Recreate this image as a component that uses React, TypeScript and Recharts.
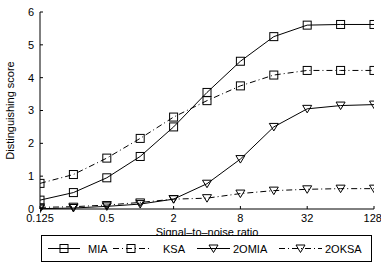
import React from "react";
import { LineChart, Line, XAxis, YAxis, Legend } from "recharts";

const snr = [0.125, 0.25, 0.5, 1, 2, 4, 8, 16, 32, 64, 128];
const mia = [0.27, 0.5, 0.95, 1.6, 2.5, 3.55, 4.5, 5.25, 5.6, 5.62, 5.62];
const ksa = [0.78, 1.05, 1.55, 2.15, 2.8, 3.3, 3.75, 4.08, 4.22, 4.22, 4.22];
const omia2 = [0.01, 0.03, 0.08, 0.15, 0.3, 0.77, 1.52, 2.5, 3.05, 3.15, 3.18];
const oksa2 = [0.05, 0.07, 0.12, 0.2, 0.3, 0.33, 0.47, 0.56, 0.6, 0.62, 0.62];
const xTicks = [0.125, 0.5, 2, 8, 32, 128];
const yTicks = [0, 1, 2, 3, 4, 5, 6];

const data = snr.map((x, i) => ({
  x,
  mia: mia[i],
  ksa: ksa[i],
  omia2: omia2[i],
  oksa2: oksa2[i],
}));

const FONT = "'Liberation Sans', Arial, sans-serif";
const DASHDOT = "6 3 1 3";

function Square({ cx, cy }: { cx: number; cy: number }) {
  return <rect x={cx - 4} y={cy - 4} width={8} height={8} fill="none" stroke="#000" strokeWidth={1} />;
}

function Tri({ cx, cy }: { cx: number; cy: number }) {
  return (
    <polygon
      points={`${cx - 4.5},${cy - 3.5} ${cx + 4.5},${cy - 3.5} ${cx},${cy + 4}`}
      fill="none"
      stroke="#000"
      strokeWidth={1}
    />
  );
}

const squareDot = (p: any) => <Square key={p.index} cx={p.cx} cy={p.cy} />;
const triDot = (p: any) => <Tri key={p.index} cx={p.cx} cy={p.cy} />;

const legendItems = [
  { name: "MIA", dash: undefined, marker: "sq", x1: 7, x2: 39, tx: 47 },
  { name: "KSA", dash: DASHDOT, marker: "sq", x1: 72, x2: 108, tx: 122 },
  { name: "2OMIA", dash: undefined, marker: "tri", x1: 156, x2: 189, tx: 192 },
  { name: "2OKSA", dash: DASHDOT, marker: "tri", x1: 238, x2: 281, tx: 284 },
];

function LegendBox() {
  return (
    <svg width={331} height={27} style={{ display: "block" }}>
      <rect x={0.5} y={0.5} width={330} height={26} fill="#fff" stroke="#000" />
      {legendItems.map((it) => {
        const mx = (it.x1 + it.x2) / 2;
        return (
          <g key={it.name}>
            <line x1={it.x1} x2={it.x2} y1={13.5} y2={13.5} stroke="#000" strokeDasharray={it.dash} />
            {it.marker === "sq" ? <Square cx={mx} cy={13.5} /> : <Tri cx={mx} cy={13.5} />}
            <text x={it.tx} y={17.5} fontSize={11} fontFamily={FONT} fill="#000">
              {it.name}
            </text>
          </g>
        );
      })}
    </svg>
  );
}

export default function App() {
  return (
    <div style={{ position: "absolute", left: 0, top: 0, background: "#fff" }}>
      <LineChart
        width={381}
        height={268}
        data={data}
        margin={{ top: 12, right: 7, bottom: 6, left: 0 }}
      >
        <XAxis
          dataKey="x"
          type="number"
          scale="log"
          domain={[0.125, 128]}
          ticks={xTicks}
          tickFormatter={(v) => String(v)}
          tickSize={-3}
          tickMargin={8}
          height={26}
          stroke="#000"
          tick={{ fill: "#000", fontSize: 11, fontFamily: FONT }}
          allowDataOverflow
          label={{ value: "Signal\u2013to\u2013noise ratio", position: "insideBottom", offset: -1, fill: "#000", fontSize: 11, fontFamily: FONT }}
        />
        <YAxis
          domain={[0, 6]}
          ticks={yTicks}
          tickSize={-3}
          tickMargin={9}
          width={40}
          stroke="#000"
          tick={{ fill: "#000", fontSize: 11, fontFamily: FONT }}
          label={{ value: "Distinguishing score", angle: -90, position: "insideLeft", offset: 10, fill: "#000", fontSize: 11, fontFamily: FONT, style: { textAnchor: "middle" } }}
        />
        <Legend verticalAlign="bottom" align="left" wrapperStyle={{ left: 41, width: 331 }} content={() => <LegendBox />} />
        <Line dataKey="mia" stroke="#000" strokeWidth={1} dot={squareDot} isAnimationActive={false} />
        <Line dataKey="ksa" stroke="#000" strokeWidth={1} strokeDasharray={DASHDOT} dot={squareDot} isAnimationActive={false} />
        <Line dataKey="omia2" stroke="#000" strokeWidth={1} dot={triDot} isAnimationActive={false} />
        <Line dataKey="oksa2" stroke="#000" strokeWidth={1} strokeDasharray={DASHDOT} dot={triDot} isAnimationActive={false} />
      </LineChart>
    </div>
  );
}
